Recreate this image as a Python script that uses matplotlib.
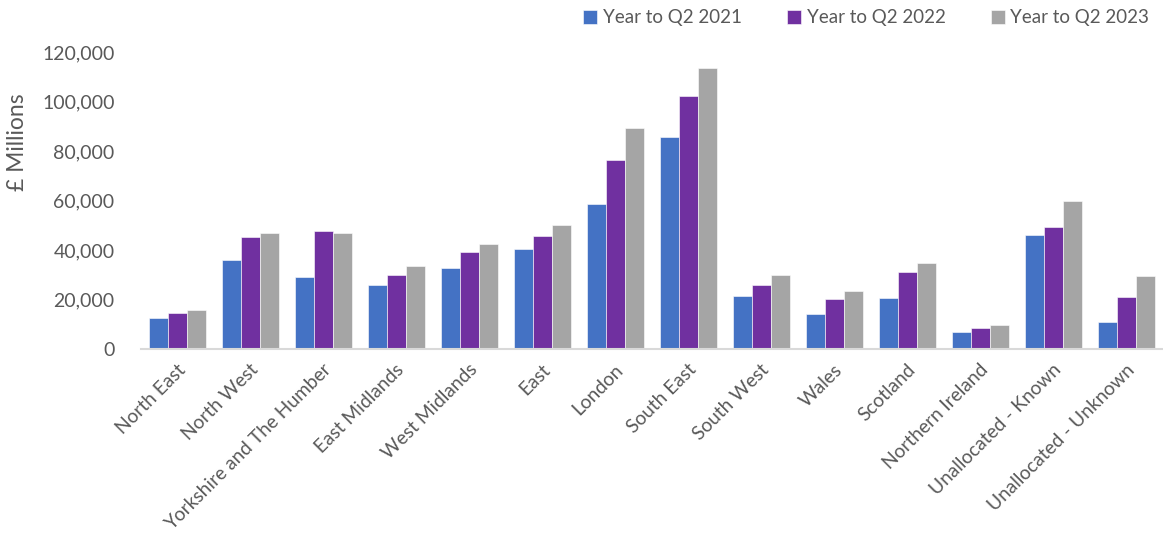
import numpy as np
import matplotlib
matplotlib.use("Agg")
import matplotlib.pyplot as plt
from matplotlib.transforms import ScaledTranslation

# Regions and values (GBP millions)
regions = [
    "North East", "North West", "Yorkshire and The Humber", "East Midlands",
    "West Midlands", "East", "London", "South East", "South West", "Wales",
    "Scotland", "Northern Ireland", "Unallocated - Known", "Unallocated - Unknown",
]
series_names = ["Year to Q2 2021", "Year to Q2 2022", "Year to Q2 2023"]
q2_2021 = [12500, 36100, 29000, 26000, 32700, 40400, 58500, 85800, 21300, 14300, 20500, 6900, 45900, 11100]
q2_2022 = [14700, 45100, 47600, 30100, 39100, 45800, 76500, 102100, 26000, 20400, 31100, 8600, 49200, 20900]
q2_2023 = [15900, 46900, 46700, 33500, 42300, 50300, 89300, 113700, 29700, 23300, 34900, 9600, 59700, 29500]
colors = ["#4472C4", "#7030A0", "#A5A5A5"]

text_col = "#595959"
plt.rcParams["font.family"] = ["Lato", "DejaVu Sans"]

fig = plt.figure(figsize=(11.63, 5.38), dpi=100)
ax = fig.add_axes([141 / 1163, 189 / 538, 1022 / 1163, 297 / 538])

x = np.arange(len(regions))
w = 0.257
for i, (vals, name, c) in enumerate(zip([q2_2021, q2_2022, q2_2023], series_names, colors)):
    ax.bar(x + (i - 1) * w, vals, width=w, color=c, label=name,
           edgecolor="white", linewidth=0.4)

ax.set_xlim(-0.5, len(regions) - 0.5)
ax.set_ylim(0, 120000)
ax.set_yticks(range(0, 120001, 20000))
ax.yaxis.set_major_formatter(matplotlib.ticker.FuncFormatter(lambda v, p: f"{int(v):,}"))
ax.tick_params(axis="y", length=0, pad=19, labelsize=14, labelcolor=text_col)
ax.tick_params(axis="x", length=0, pad=13)
ax.set_xticks(x)
ax.set_xticklabels(regions, rotation=45, ha="right", va="center",
                   rotation_mode="anchor", fontsize=13.8, color=text_col)
# nudge the slanted labels a little to the right
shift = ScaledTranslation(5 / 100, 0, fig.dpi_scale_trans)
for lab in ax.get_xticklabels():
    lab.set_transform(lab.get_transform() + shift)

for s in ["top", "right", "left"]:
    ax.spines[s].set_visible(False)
ax.spines["bottom"].set_color("#D9D9D9")
ax.spines["bottom"].set_linewidth(1.5)

fig.text(18 / 1163, 1 - 142 / 538, "£ Millions", rotation=90, ha="center", va="center",
         fontsize=16.5, color=text_col)

ax.legend(loc="center left", bbox_to_anchor=(574 / 1163, 1 - 18 / 538),
          bbox_transform=fig.transFigure, ncol=3, frameon=False,
          fontsize=13.5, labelcolor=text_col, handlelength=0.75, handleheight=0.75,
          handletextpad=0.3, columnspacing=2.4, borderpad=0)

fig.savefig("out.png", dpi=100)
